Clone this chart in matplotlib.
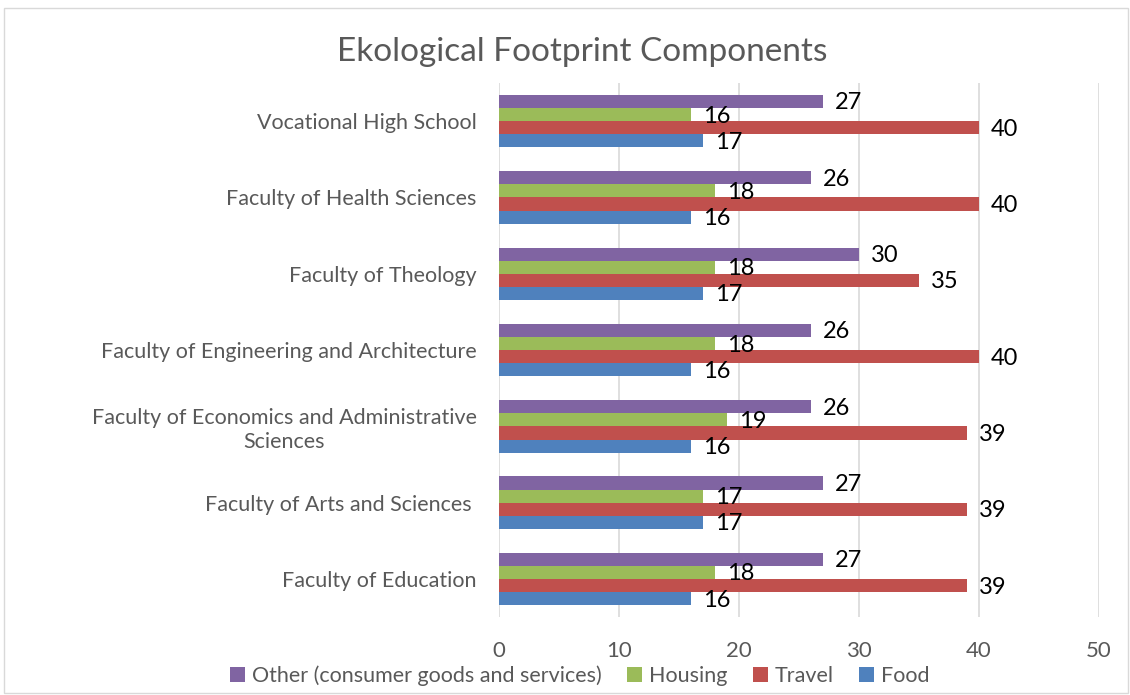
import matplotlib
matplotlib.use("Agg")
import matplotlib.pyplot as plt
import numpy as np
from matplotlib.patches import Rectangle

# faculties, bottom to top
faculties = [
    "Faculty of Education",
    "Faculty of Arts and Sciences ",
    "Faculty of Economics and Administrative\nSciences",
    "Faculty of Engineering and Architecture",
    "Faculty of Theology",
    "Faculty of Health Sciences",
    "Vocational High School",
]
food = [16, 17, 16, 16, 17, 16, 17]
travel = [39, 39, 39, 40, 35, 40, 40]
housing = [18, 17, 19, 18, 18, 18, 16]
other = [27, 27, 26, 26, 30, 26, 27]

series = [
    ("Food", food, "#4F81BD"),
    ("Travel", travel, "#C0504D"),
    ("Housing", housing, "#9BBB59"),
    ("Other (consumer goods and services)", other, "#8064A2"),
]

plt.rcParams["font.family"] = ["Lato", "DejaVu Sans"]

fig = plt.figure(figsize=(11.3, 6.95), dpi=100)
ax = fig.add_axes([0.4416, 0.112, 0.531, 0.7686])

# light outer frame
fig.patches.append(Rectangle((4 / 1130, 2 / 695), 1124 / 1130, 685 / 695,
                             transform=fig.transFigure, fill=False,
                             edgecolor="#d9d9d9", linewidth=1.0))

y = np.arange(len(faculties))
bar_h = 0.172
handles = {}
for i, (name, vals, color) in enumerate(series):
    offs = (i - 1.5) * bar_h
    bars = ax.barh(y + offs, vals, height=bar_h, color=color, zorder=3)
    handles[name] = bars
    for yy, v in zip(y + offs, vals):
        ax.text(v + 1.0, yy - 0.02, str(v), va="center", ha="left",
                fontsize=17, color="black", zorder=4)

ax.set_xlim(0, 50)
ax.set_ylim(-0.5, len(faculties) - 0.5)
ax.set_xticks(range(0, 51, 10))
ax.set_yticks(y)
ax.set_yticklabels(faculties, fontsize=15.5, color="#595959")
for lbl in ax.get_yticklabels():
    lbl.set_multialignment("center")
ax.tick_params(axis="y", length=0, pad=16)
ax.tick_params(axis="x", length=0, pad=17, labelsize=16, labelcolor="#595959")
ax.grid(axis="x", color="#d9d9d9", linewidth=1.2, zorder=0)
for s in ax.spines.values():
    s.set_visible(False)

fig.text(0.5155, 0.925, "Ekological Footprint Components", ha="center",
         va="center", fontsize=24, color="#595959")

order = ["Other (consumer goods and services)", "Housing", "Travel", "Food"]
leg = fig.legend([handles[n] for n in order], order, loc="center",
                 bbox_to_anchor=(0.513, 0.028), ncol=4, frameon=False,
                 fontsize=15.5, handlelength=0.7, handleheight=0.7,
                 handletextpad=0.3, columnspacing=1.2)
for t in leg.get_texts():
    t.set_color("#595959")

fig.savefig("out.png", dpi=100)
